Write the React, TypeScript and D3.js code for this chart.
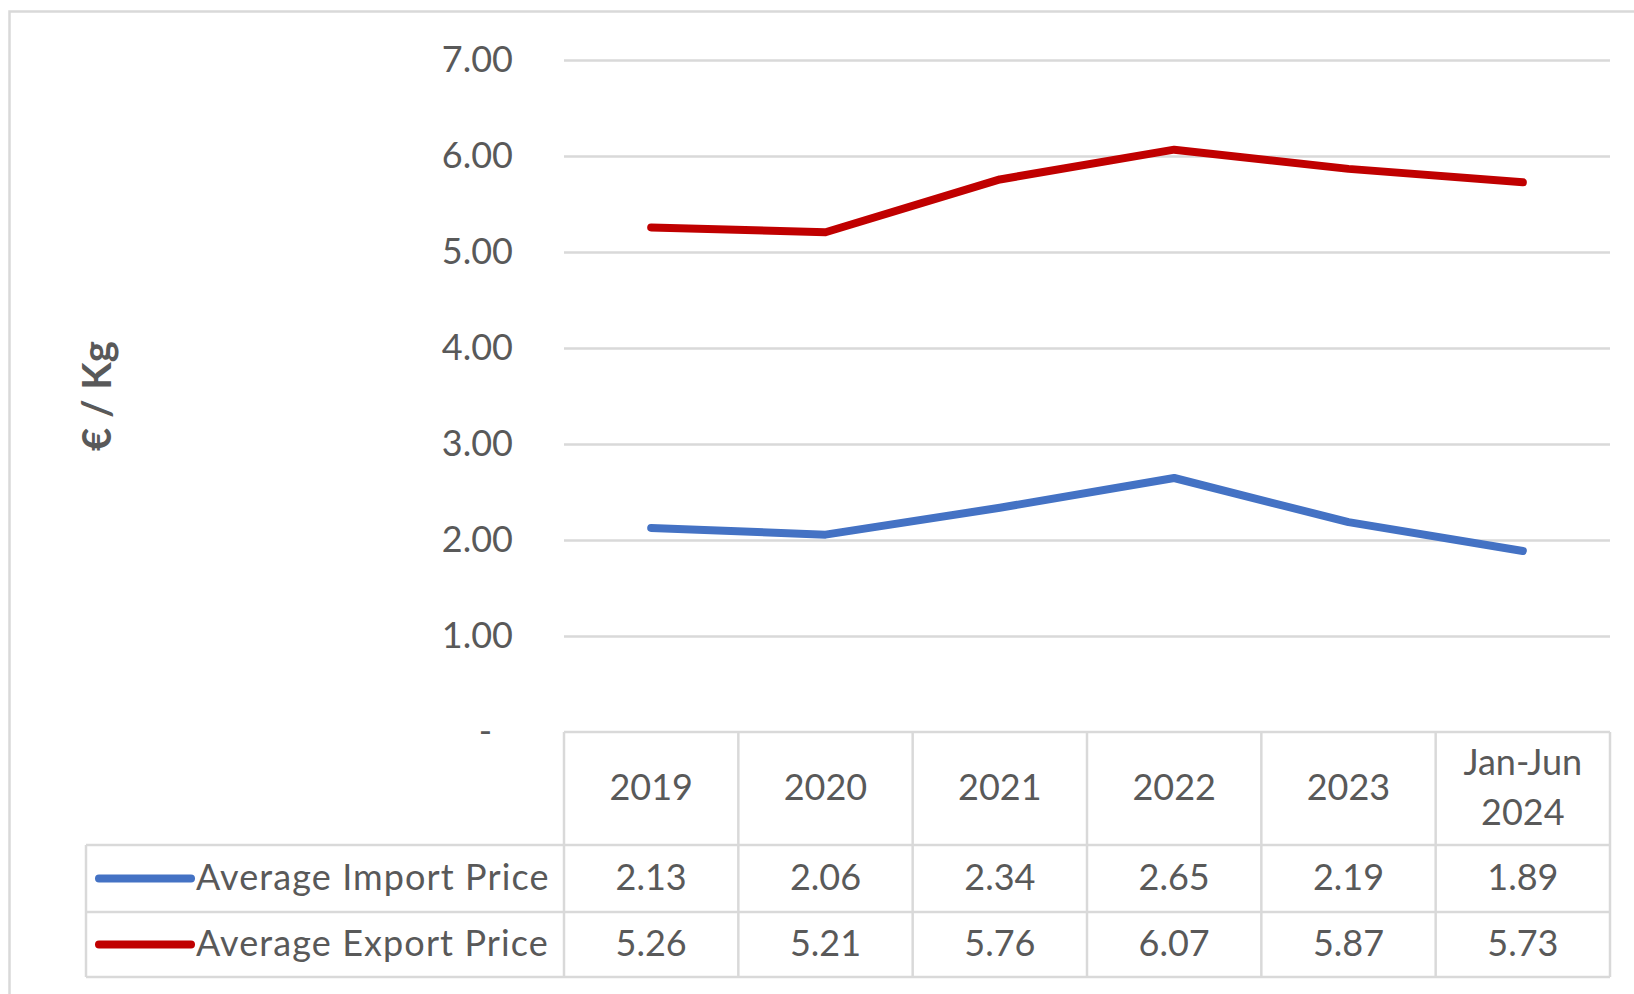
import React from "react";
import * as d3 from "d3";

const categories = ["2019", "2020", "2021", "2022", "2023", "Jan-Jun 2024"];
const importPrice = [2.13, 2.06, 2.34, 2.65, 2.19, 1.89];
const exportPrice = [5.26, 5.21, 5.76, 6.07, 5.87, 5.73];
const yTicks = [0, 1, 2, 3, 4, 5, 6, 7];
const seriesNames = ["Average Import Price", "Average Export Price"];
const seriesColors = ["#4472C4", "#C00000"];

const W = 1634;
const H = 994;
const FONT = "Lato, 'Noto Sans', sans-serif";
const TEXT = "#595959";
const GRID = "#D9D9D9";

export default function App() {
  const plotLeft = 564;
  const plotRight = 1610;
  const y = d3.scaleLinear().domain([0, 7]).range([732.4, 60.4]);
  const x = d3.scaleBand<string>().domain(categories).range([plotLeft, plotRight]);
  const cx = (c: string) => (x(c) as number) + x.bandwidth() / 2;

  const line = d3
    .line<number>()
    .x((_, i) => cx(categories[i]))
    .y((d) => y(d));

  const series = [importPrice, exportPrice];

  const tableTop = 732;
  const headerBottom = 845;
  const row1Bottom = 912;
  const row2Bottom = 977;
  const tableLeft = 86;
  const rowBottoms = [row1Bottom, row2Bottom];
  const rowTops = [headerBottom, row1Bottom];
  const dy = -2.5;

  const fmt = (v: number) => (v === 0 ? "-" : d3.format(".2f")(v));

  return (
    <svg
      width={W}
      height={H}
      style={{ position: "absolute", left: 0, top: 0, background: "#fff" }}
      fontFamily={FONT}
    >
      <rect x={0} y={0} width={W} height={H} fill="#fff" />
      <rect x={9.5} y={11.5} width={W + 50} height={H + 50} fill="none" stroke={GRID} strokeWidth={2.5} />

      {yTicks.filter((t) => t > 0).map((t) => (
        <line key={t} x1={plotLeft} x2={plotRight} y1={y(t)} y2={y(t)} stroke={GRID} strokeWidth={2.5} />
      ))}

      {yTicks.map((t) => (
        <text
          key={t}
          x={t === 0 ? 492 : 513}
          y={y(t) + dy}
          textAnchor="end"
          dominantBaseline="central"
          fontSize={36}
          fill={TEXT}
        >
          {fmt(t)}
        </text>
      ))}

      <text
        transform={`translate(96,396) rotate(-90)`}
        textAnchor="middle"
        dominantBaseline="central"
        fontSize={40}
        fontWeight="bold"
        fill={TEXT}
      >
        € / Kg
      </text>

      {series.map((s, i) => (
        <path
          key={i}
          d={line(s) || ""}
          fill="none"
          stroke={seriesColors[i]}
          strokeWidth={8}
          strokeLinecap="round"
          strokeLinejoin="round"
        />
      ))}

      <g stroke={GRID} strokeWidth={2.5} fill="none">
        <line x1={plotLeft} x2={plotRight} y1={tableTop} y2={tableTop} />
        <line x1={tableLeft} x2={plotRight} y1={headerBottom} y2={headerBottom} />
        <line x1={tableLeft} x2={plotRight} y1={row1Bottom} y2={row1Bottom} />
        <line x1={tableLeft} x2={plotRight} y1={row2Bottom} y2={row2Bottom} />
        <line x1={tableLeft} x2={tableLeft} y1={headerBottom} y2={row2Bottom} />
        {categories.map((c) => (
          <line key={c} x1={x(c) as number} x2={x(c) as number} y1={tableTop} y2={row2Bottom} />
        ))}
        <line x1={plotRight} x2={plotRight} y1={tableTop} y2={row2Bottom} />
      </g>

      {categories.map((c) => {
        const parts = c.startsWith("Jan") ? ["Jan-Jun", "2024"] : [c];
        const mid = (tableTop + headerBottom) / 2 + dy;
        return parts.map((p, j) => (
          <text
            key={c + j}
            x={cx(c)}
            y={parts.length === 1 ? mid : mid + (j - 0.5) * 50}
            textAnchor="middle"
            dominantBaseline="central"
            fontSize={36}
            fill={TEXT}
          >
            {p}
          </text>
        ));
      })}

      {series.map((s, i) => {
        const mid = (rowTops[i] + rowBottoms[i]) / 2;
        return (
          <g key={i}>
            <line x1={99} x2={191} y1={mid} y2={mid} stroke={seriesColors[i]} strokeWidth={8} strokeLinecap="round" />
            <text x={196} y={mid + dy - 0.5} dominantBaseline="central" fontSize={36} letterSpacing={1.1} fill={TEXT}>
              {seriesNames[i]}
            </text>
            {s.map((v, k) => (
              <text
                key={k}
                x={cx(categories[k])}
                y={mid + dy - 0.5}
                textAnchor="middle"
                dominantBaseline="central"
                fontSize={36}
                fill={TEXT}
              >
                {d3.format(".2f")(v)}
              </text>
            ))}
          </g>
        );
      })}
    </svg>
  );
}
